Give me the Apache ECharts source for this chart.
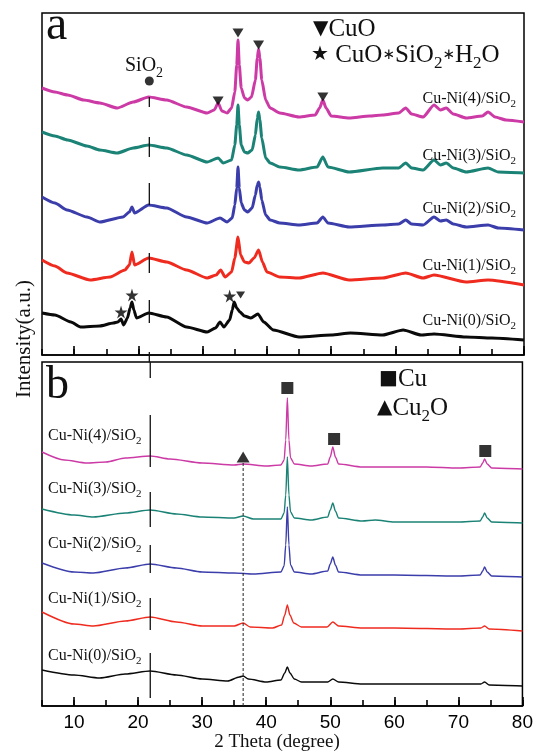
<!DOCTYPE html>
<html><head><meta charset="utf-8">
<script src="https://cdn.jsdelivr.net/npm/echarts@6/dist/echarts.min.js"></script>
<style>html,body{margin:0;padding:0;background:#fff}#c{width:536px;height:753px}</style>
</head><body><div id="c"></div>
<script>
// ---- axis ticks ----
const majorTicks = [10, 20, 30, 40, 50, 60, 70, 80];
const sampleNames = ['Cu-Ni(4)/SiO2', 'Cu-Ni(3)/SiO2', 'Cu-Ni(2)/SiO2', 'Cu-Ni(1)/SiO2', 'Cu-Ni(0)/SiO2'];
const colors = ['#cc3aa6', '#1b8276', '#3b3dab', '#ef2b1f', '#0a0a0a'];

// ---- panel a (calcined), stacked intensities, a.u. ----
const a4 = [[5,267],[7,263],[9,260],[11.5,255],[14,252],[16.7,247],[19.2,253],[21.6,258],[24.4,255],[27.5,248],[30.7,242],[31.8,245],[32.4,252],[33.0,244],[33.8,242],[34.5,247],[35.0,263],[35.3,290],[35.5,315],[35.7,290],[36.0,267],[36.5,257],[37.0,255],[37.6,258],[38.2,275],[38.5,297],[38.7,306],[38.9,297],[39.2,275],[39.8,255],[40.5,247],[42,242],[45,238],[47.5,240],[48.2,247],[48.7,255],[49.2,247],[50,239],[52.8,237],[56,239],[58,240],[60.5,242],[61.6,247],[62.5,241],[64.3,238],[66,250],[67,245],[67.9,247],[69,241],[71,237],[73.5,239],[74.4,243],[75.5,238],[77.2,235],[80,233]];
const a3 = [[5,223],[7,219],[9,215],[12,209],[14,205],[16.7,202],[19.2,207],[21.6,210],[24.4,207],[27.5,200],[30.7,193],[32.4,197],[33.2,192],[34.5,195],[35.0,210],[35.3,230],[35.5,250],[35.7,230],[36.0,210],[36.5,203],[37.0,202],[37.7,205],[38.2,220],[38.5,237],[38.7,243],[38.9,235],[39.2,217],[39.8,197],[40.5,192],[42,188],[45,185],[47.8,188],[48.7,198],[49.5,188],[52.8,183],[58,187],[60.5,187],[61.6,192],[62.5,187],[64.3,185],[66,195],[67,190],[67.9,192],[69,187],[71,183],[74.4,187],[76,183],[80,182]];
const a2 = [[5,158],[7,152],[8.9,145],[12,138],[14,133],[17.6,138],[18.6,143],[19.0,148],[19.4,142],[21.6,150],[24.4,147],[27.5,138],[30.7,132],[32.7,137],[33.8,133],[34.6,137],[35.0,150],[35.3,167],[35.5,188],[35.7,167],[36.0,152],[36.5,145],[37.0,143],[37.7,147],[38.2,160],[38.5,170],[38.7,173],[38.9,168],[39.2,155],[39.8,140],[40.5,135],[42,132],[45,130],[47.8,132],[48.7,138],[49.5,132],[52.8,128],[58,130],[60.5,131],[61.6,135],[62.5,131],[64.3,130],[66,138],[67,134],[67.9,135],[69,131],[71,128],[74.4,130],[76,127],[80,125]];
const a1 = [[5,95],[7,89],[8.9,82],[12.5,75],[15.6,78],[17.9,85],[18.6,90],[19.0,103],[19.4,90],[21.6,97],[24.4,93],[27.5,85],[30.7,77],[32.1,80],[32.8,85],[33.5,78],[34.5,83],[35.0,97],[35.5,118],[35.9,100],[36.5,93],[37.2,92],[38.0,97],[38.7,105],[39.3,93],[40,83],[42,78],[45,77],[48.7,82],[52.8,75],[58,77],[61.6,82],[64.3,77],[66,80],[71,73],[74.4,75],[80,70]];
const a0 = [[5,42],[7,40],[9.5,33],[11,28],[14,29],[16.1,32],[16.8,33],[17.3,36],[17.7,30],[18.3,37],[18.7,47],[19.0,53],[19.3,45],[19.7,37],[21.6,42],[24.4,38],[27.5,28],[30.7,23],[32.0,27],[32.7,33],[33.3,28],[34.2,35],[34.6,45],[34.9,53],[35.3,47],[35.8,43],[36.5,39],[37.5,37],[38.6,41],[39.5,33],[41,25],[45,18],[50,20],[53,22],[58,20],[61.2,25],[64,20],[66,21],[71,18],[75,17],[80,15]];

// ---- panel b (reduced) ----
const b4 = [[5,254],[8.5,246],[12,243],[15,244],[18,248],[21.9,250],[25,247],[30,243],[35,241],[36.4,242],[40,240],[42.3,241],[42.8,246],[43.05,266],[43.3,308],[43.55,266],[43.8,248],[44.4,242],[47,240],[49.6,242],[50.0,249],[50.4,259],[50.8,249],[51.3,242],[55,239],[60,239],[65,239],[70,238],[73.4,239],[73.8,243],[74.1,247],[74.5,242],[75.2,238],[80,237]];
const b3 = [[5,197],[10,191],[13,189],[18,193],[21.9,196],[26,192],[30,189],[35,188],[36.4,190],[38,187],[42.3,187],[42.8,193],[43.05,211],[43.3,249],[43.55,211],[43.8,194],[44.4,188],[47,186],[49.6,189],[50.0,196],[50.4,203],[50.8,195],[51.3,188],[55,185],[57,186],[60,184],[70,184],[73.4,185],[73.8,189],[74.1,193],[74.5,188],[75.2,184],[80,183]];
const b2 = [[5,143],[10,134],[13,133],[18,138],[21.9,142],[26,138],[30,134],[35,133],[38,132],[42.3,134],[42.8,140],[43.05,161],[43.3,199],[43.55,161],[43.8,141],[44.4,134],[47,132],[49.6,135],[50.0,142],[50.4,149],[50.8,141],[51.3,134],[55,131],[60,131],[70,130],[73.4,131],[73.8,135],[74.1,139],[74.5,134],[75.2,130],[80,129]];
const b1 = [[5,94],[10,82],[13,80],[18,85],[21.9,89],[26,84],[30,80],[35,80],[36.4,83],[37.5,79],[41,78],[42.4,81],[42.9,91],[43.3,101],[43.7,91],[44.3,83],[45.5,79],[49.5,79],[50.4,84],[51.3,80],[55,78],[60,78],[70,77],[73.5,78],[74.1,80],[74.8,77],[80,75]];
const b0 = [[5,36],[10,31],[14,28],[18,32],[21.9,35],[26,31],[30,27],[34,25],[35.8,29],[36.4,30],[37.2,27],[40,24],[42.3,26],[42.9,33],[43.3,39],[43.7,33],[44.4,27],[45.5,24],[49.6,24],[50.4,27],[51.3,24],[55,22],[60,22],[70,22],[73.5,22],[74.1,24],[74.8,21],[80,20]];

// ---- phase markers ----
const cuoMarksA = [[35.5,322],[38.7,310],[32.4,254],[48.7,258]];
const cuoSmallA = [[35.9,60]];
const starMarksA = [[17.3,43],[19.0,60],[34.2,59]];
const sio2DotA = [[21.7,274]];
const cuMarksB = [[43.3,318],[50.6,267],[74.2,255]];
const cu2oMarksB = [[36.4,249]];
const sio2PosA = 21.7, sio2PosB = 21.9, cu2oPos = 36.4;
const sio2SegA = [[258,248],[218,198],[172,150],[102,82],[55,32],[3,-7]];
const sio2SegB = [[344,328],[291,239],[214,179],[161,133],[108,76],[53,8]];
const cu2oLineB = [0, 244];

const chart = echarts.init(document.getElementById('c'), null, {renderer: 'canvas'});
const serif = '"Liberation Serif","Times New Roman",serif';

function xAxes(grid, labels) {
  return [
    // every 5 degrees: short ticks, labels at multiples of 10
    {gridIndex: grid, type: 'value', min: 5, max: 80, interval: 5, position: 'bottom',
     axisLine: {show: true, onZero: false, lineStyle: {color: '#000', width: 1.5}}, splitLine: {show: false},
     axisTick: {show: true, inside: true, length: 6, lineStyle: {color: '#000', width: 1.6}},
     axisLabel: {show: labels, margin: 7, color: '#000', fontSize: 19, fontFamily: '"Liberation Sans",Arial,sans-serif',
       formatter: v => (v % 10 === 0 ? String(v) : '')}},
    // major ticks overlay
    {gridIndex: grid, type: 'value', min: 5, max: 80, position: 'bottom',
     axisLine: {show: false, onZero: false}, splitLine: {show: false},
     axisTick: {show: true, inside: true, length: 9, customValues: majorTicks, lineStyle: {color: '#000', width: 1.6}},
     axisLabel: {show: false, customValues: majorTicks}}
  ];
}

const series = [];
[a4, a3, a2, a1, a0].forEach((d, i) => series.push({
  type: 'line', xAxisIndex: 0, yAxisIndex: 0, data: d, showSymbol: false, symbol: 'none',
  smooth: 0.2, smoothMonotone: 'x', lineStyle: {color: colors[i], width: 3}, z: 2
}));
[b4, b3, b2, b1, b0].forEach((d, i) => series.push({
  type: 'line', xAxisIndex: 2, yAxisIndex: 1, data: d, showSymbol: false, symbol: 'none',
  smooth: 0.25, smoothMonotone: 'x', lineStyle: {color: colors[i], width: 1.4}, z: 2
}));
sio2SegA.forEach(s => series.push({type: 'line', xAxisIndex: 0, yAxisIndex: 0, clip: false, symbol: 'none',
  data: [[sio2PosA, s[0]], [sio2PosA, s[1]]], lineStyle: {color: '#111', width: 1.3}, z: 3}));
sio2SegB.forEach(s => series.push({type: 'line', xAxisIndex: 2, yAxisIndex: 1, clip: false, symbol: 'none',
  data: [[sio2PosB, s[0]], [sio2PosB, s[1]]], lineStyle: {color: '#111', width: 1.3}, z: 3}));
series.push({type: 'line', xAxisIndex: 2, yAxisIndex: 1, symbol: 'none',
  data: [[cu2oPos, cu2oLineB[0]], [cu2oPos, cu2oLineB[1]]], lineStyle: {color: '#222', width: 1, type: [3, 2]}, z: 3});
const starPath = 'path://M50,0 L61,35 L98,35 L68,57 L79,91 L50,70 L21,91 L32,57 L2,35 L39,35 Z';
series.push({type: 'scatter', xAxisIndex: 0, yAxisIndex: 0, data: cuoMarksA, symbol: 'triangle', symbolRotate: 180, symbolSize: [11, 9], itemStyle: {color: '#000'}, z: 4});
series.push({type: 'scatter', xAxisIndex: 0, yAxisIndex: 0, data: cuoSmallA, symbol: 'triangle', symbolRotate: 180, symbolSize: [9, 7], itemStyle: {color: '#000'}, z: 4});
series.push({type: 'scatter', xAxisIndex: 0, yAxisIndex: 0, data: starMarksA, symbol: starPath, symbolSize: 13, itemStyle: {color: '#000'}, z: 4});
series.push({type: 'scatter', xAxisIndex: 0, yAxisIndex: 0, data: sio2DotA, symbol: 'circle', symbolSize: 9, itemStyle: {color: '#000'}, z: 4});
series.push({type: 'scatter', xAxisIndex: 2, yAxisIndex: 1, data: cuMarksB, symbol: 'rect', symbolSize: 12, itemStyle: {color: '#000'}, z: 4});
series.push({type: 'scatter', xAxisIndex: 2, yAxisIndex: 1, data: cu2oMarksB, symbol: 'triangle', symbolSize: [13, 11], itemStyle: {color: '#000'}, z: 4});

function subText(name) { return name.replace(/2$/, '{s|2}'); }
const graphics = [];
function addText(x, y, text, size, align) {
  graphics.push({type: 'text', x: x, y: y, silent: true, z: 10,
    style: {text: text, fontSize: size, fontFamily: serif, fill: '#111', align: align || 'left', verticalAlign: 'middle',
      rich: {s: {fontSize: Math.round(size * 0.68), fontFamily: serif, padding: [Math.round(size * 0.7), 0, 0, 0], fill: '#111'},
             sym: {fontSize: Math.round(size * 0.8), fontFamily: '"DejaVu Sans",sans-serif', fill: '#111'},
             ast: {fontSize: Math.round(size * 0.6), fontFamily: '"DejaVu Sans",sans-serif', fill: '#111'}}}});
}
const labelYA = [99, 156, 209, 266, 321];
const labelYB = [436, 489, 544, 599, 656];
sampleNames.forEach((n, i) => {
  addText(516, labelYA[i], subText(n), 16, 'right');
  addText(48, labelYB[i], subText(n), 16);
});
addText(46, 26, 'a', 48);
addText(46, 386, 'b', 46);
addText(125, 66, 'SiO{s|2}', 20);
addText(313, 29, '{sym|▼}CuO', 25);
addText(311, 55, '{sym|★} CuO{ast|∗}SiO{s|2}{ast|∗}H{s|2}O', 25);
addText(379, 379, '{sym|■}Cu', 25);
addText(377, 408, '{sym|▲}Cu{s|2}O', 25);
addText(277, 742, '2 Theta (degree)', 19, 'center');
graphics.push({type: 'text', x: 24, y: 339, rotation: Math.PI / 2, silent: true,
  style: {text: 'Intensity(a.u.)', fontSize: 21, fontFamily: serif, fill: '#111', align: 'center', verticalAlign: 'middle'}});

chart.setOption({
  animation: false,
  backgroundColor: '#fff',
  grid: [
    {left: 42, right: 12, top: 13, height: 342, show: true, borderColor: '#000', borderWidth: 1.5, backgroundColor: 'transparent'},
    {left: 42, right: 12, top: 362, height: 344, show: true, borderColor: '#000', borderWidth: 1.5, backgroundColor: 'transparent'}
  ],
  xAxis: xAxes(0, false).concat(xAxes(1, true)),
  yAxis: [
    {gridIndex: 0, type: 'value', min: 0, max: 342, show: false},
    {gridIndex: 1, type: 'value', min: 0, max: 344, show: false}
  ],
  series: series,
  graphic: graphics
});
</script></body></html>
